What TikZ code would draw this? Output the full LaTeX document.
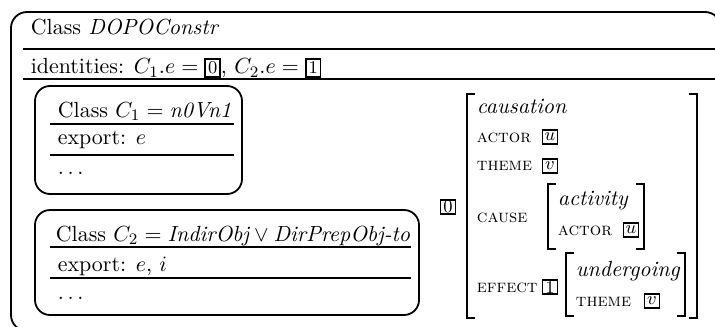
\documentclass[tikz,border=0pt,11pt]{standalone}
\usetikzlibrary{positioning}

\newcommand{\tg}[1]{{\setlength{\fboxsep}{1pt}\setlength{\fboxrule}{0.8pt}\fbox{\footnotesize #1}}}

\begin{document}
\begin{tikzpicture}[x=0.5pt, y=-0.5pt, line width=0.9pt,
  txt/.style={anchor=base west, inner sep=0pt},
  feat/.style={txt, font=\fontsize{9}{10}\selectfont\scshape},
  tagbox/.style={draw, line width=0.8pt, inner sep=0pt, minimum width=7.5pt, minimum height=7pt, font=\footnotesize}]
\useasboundingbox (0,0) rectangle (715,326);
\clip (0,0) rectangle (715,326);

% outer class
\draw[rounded corners=8pt] (721,40) |- (11,12) |- (40,331);
\node[txt] (dopo) at (30,35) {Class \textit{DOPOConstr}};
\draw (23,49) -- (715,49);
\node[txt] (ident) at (30,74) {identities: $C_1.e = \tg{0}$, $C_2.e = \tg{1}$};
\draw (23,79) -- (715,79);

% class C1
\draw[rounded corners=7.5pt] (35,86) rectangle (242,194);
\node[txt] (cone) at (57,117) {Class $C_1 = \textit{n0Vn1}$};
\draw (50,124) -- (234,124);
\node[txt] (coneexp) at (57,144) {export: $e$};
\draw (50,155) -- (234,155);
\node[txt] (conedots) at (57,174) {$\ldots$};

% class C2
\draw[rounded corners=7.5pt] (35,210) rectangle (419,315);
\node[txt] (ctwo) at (55,241) {Class $C_2 = \textit{IndirObj} \vee \textit{DirPrepObj-to}$};
\draw (50,247) -- (411,247);
\node[txt] (ctwoexp) at (57,271) {export: $e$, $i$};
\draw (50,278) -- (411,278);
\node[txt] (ctwodots) at (57,299) {$\ldots$};

% semantics
\node[tagbox] (tagzero) at (448,207) {0};
\draw (475,94) -| (467,318) -- (475,318);
\draw (689,94) -| (697,318) -- (689,318);
\node[txt] (caus) at (476,113) {\textit{causation}};
\node[feat] (actor) at (476,142) {actor};
\node[tagbox] (tagu) at (550,137) {$u$};
\node[feat] (theme) at (476,170) {theme};
\node[tagbox] (tagv) at (550,166) {$v$};
\node[feat] (cause) at (476,222) {cause};
\draw (556,184) -| (548,249) -- (556,249);
\draw (636,184) -| (644,249) -- (636,249);
\node[txt] (activ) at (557,205) {\textit{activity}};
\node[feat] (actortwo) at (557,235) {actor};
\node[tagbox] (taguu) at (631,230) {$u$};
\node[feat] (effect) at (476,292) {effect};
\node[tagbox] (tagone) at (550,287) {1};
\draw (574,253) -| (566,316) -- (574,316);
\draw (677,253) -| (685,316) -- (677,316);
\node[txt] (underg) at (575,276) {\textit{undergoing}};
\node[feat] (themetwo) at (575,306) {theme};
\node[tagbox] (tagvv) at (652,301) {$v$};
\end{tikzpicture}
\end{document}
